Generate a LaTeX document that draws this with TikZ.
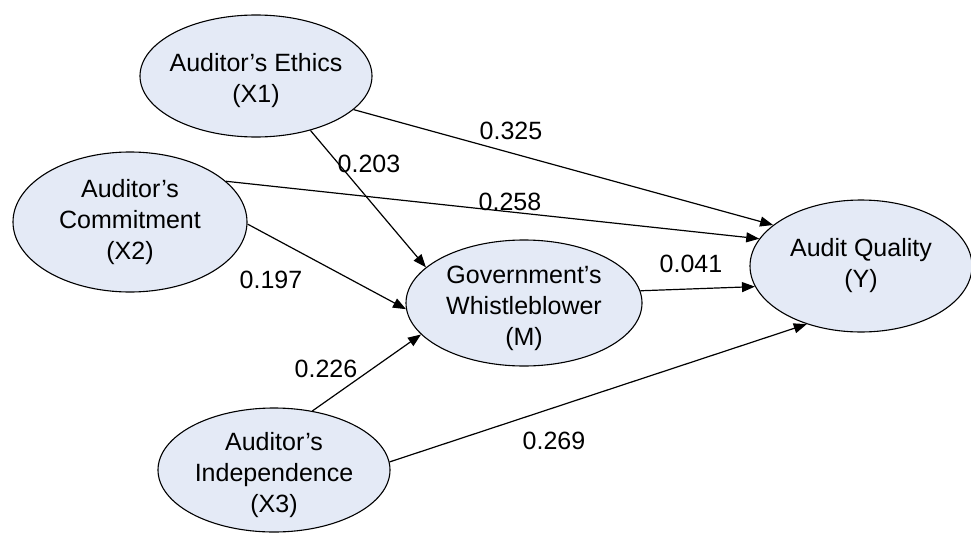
\documentclass[tikz,border=0pt]{standalone}
\usepackage{fontspec}
\setmainfont{Liberation Sans}
\usepackage{tikz}
\usetikzlibrary{shapes.geometric, arrows.meta}
\definecolor{latentfill}{RGB}{228,234,246}
\newcommand{\lowertext}{\rule{0pt}{28pt}}

\begin{document}
\begin{tikzpicture}[x=1pt,y=-1pt]
	\tikzstyle{latent}=[ellipse,draw=black,line width=1.1pt,fill=latentfill,inner sep=-40pt,align=center,font=\fontsize{25}{31}\selectfont]
	\tikzstyle{coef}=[inner sep=0pt,font=\fontsize{25}{31}\selectfont]
	\useasboundingbox (0,0) rectangle (971,535);
	\node[latent,minimum width=232pt,minimum height=122pt](X1) at (256,76){\lowertext Auditor's Ethics\\(X1)};
	\node[latent,minimum width=234pt,minimum height=140pt](X2) at (130,222){Auditor's\\Commitment\\(X2)};
	\node[latent,minimum width=236pt,minimum height=126pt](M) at (524,303){\lowertext Government's\\Whistleblower\\(M)};
	\node[latent,minimum width=222pt,minimum height=132pt](Y) at (861,266){Audit Quality\\(Y)};
	\node[latent,minimum width=232pt,minimum height=124pt](X3) at (274,470){\lowertext Auditor's\\Independence\\(X3)};
	\path[-{Triangle[length=13pt,width=10pt]},line width=1.2pt]
		(X1.-19.6) edge (Y.155)
		(X1.-45) edge (M.160.7)
		(X2.23.9) edge (Y.165.8)
		(X2.-1.5) edge (M.183.4)
		(M.6.6) edge (Y.191.7)
		(X3.57.7) edge (M.197.3)
		(X3.4.1) edge (Y.227);
	\node[coef](c325) at (511,131){0.325};
	\node[coef](c203) at (369,164){0.203};
	\node[coef](c258) at (510,202){0.258};
	\node[coef](c197) at (271,280){0.197};
	\node[coef](c041) at (691,264){0.041};
	\node[coef](c226) at (326,369){0.226};
	\node[coef](c269) at (554,441){0.269};
\end{tikzpicture}
\end{document}
